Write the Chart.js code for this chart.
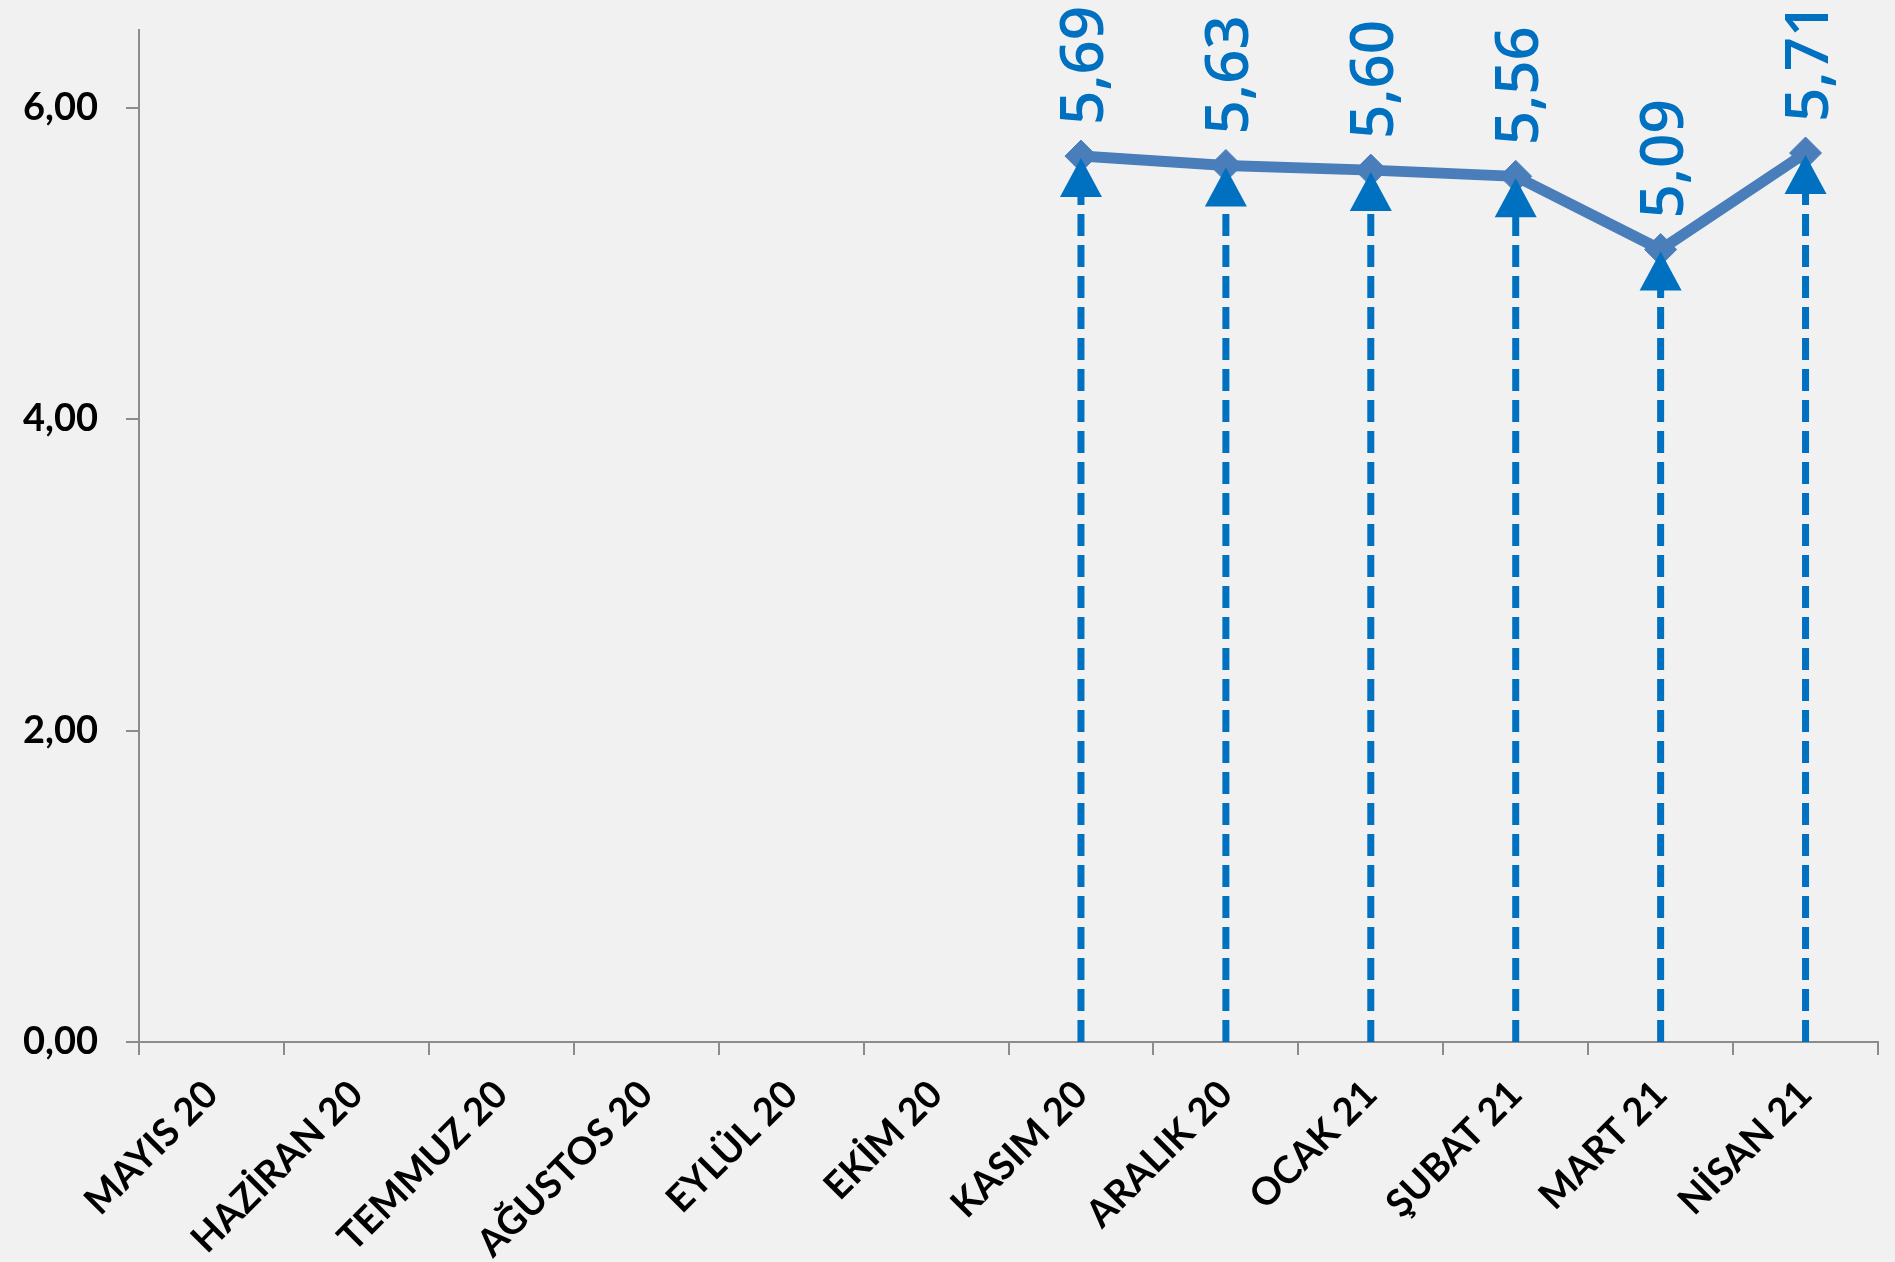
<!DOCTYPE html>
<html>
<head>
<meta charset="utf-8">
<script src="https://cdn.jsdelivr.net/npm/chart.js@4/dist/chart.umd.min.js"></script>
<style>
  html, body { margin: 0; padding: 0; background: #f1f1f1; }
  #wrap { width: 1895px; height: 1262px; position: relative; }
</style>
</head>
<body>
<div id="wrap"><canvas id="c" width="1895" height="1262"></canvas></div>
<script>
const categories = ['MAYIS 20','HAZİRAN 20','TEMMUZ 20','AĞUSTOS 20','EYLÜL 20','EKİM 20','KASIM 20','ARALIK 20','OCAK 21','ŞUBAT 21','MART 21','NİSAN 21'];
const values = [null, null, null, null, null, null, 5.69, 5.63, 5.60, 5.56, 5.09, 5.71];
const yTicks = [0, 2, 4, 6];
const yMin = 0;
const yMax = 6.5;

const fmt = v => v.toFixed(2).replace('.', ',');

const arrowPlugin = {
  id: 'arrows',
  afterDatasetsDraw(chart) {
    const ctx = chart.ctx;
    const meta = chart.getDatasetMeta(0);
    const yScale = chart.scales.y;
    const y0 = yScale.getPixelForValue(0);
    ctx.save();
    meta.data.forEach((pt, i) => {
      const v = values[i];
      if (v === null || v === undefined) return;
      const x = pt.x, y = pt.y;
      const tipY = y + 2;
      const headH = 39, headW = 42;
      ctx.strokeStyle = '#0070C0';
      ctx.lineWidth = 7;
      ctx.lineCap = 'butt';
      ctx.setLineDash([22, 9]);
      ctx.beginPath();
      ctx.moveTo(x, y0);
      ctx.lineTo(x, tipY + headH - 2);
      ctx.stroke();
      ctx.setLineDash([]);
      ctx.fillStyle = '#0070C0';
      ctx.beginPath();
      ctx.moveTo(x, tipY);
      ctx.lineTo(x - headW / 2, tipY + headH);
      ctx.lineTo(x + headW / 2, tipY + headH);
      ctx.closePath();
      ctx.fill();
    });
    meta.data.forEach((pt, i) => {
      const v = values[i];
      if (v === null || v === undefined) return;
      ctx.save();
      ctx.translate(pt.x, pt.y - 31);
      ctx.rotate(-Math.PI / 2);
      ctx.fillStyle = '#0070C0';
      ctx.font = '600 60px "Open Sans"';
      ctx.textAlign = 'left';
      ctx.textBaseline = 'alphabetic';
      ctx.fillText(fmt(v), 0, 22);
      ctx.restore();
    });
    ctx.restore();
  }
};

new Chart(document.getElementById('c'), {
  type: 'line',
  data: {
    labels: categories,
    datasets: [{
      data: values,
      borderColor: '#4A7EBB',
      backgroundColor: '#4A7EBB',
      borderWidth: 11,
      pointStyle: 'rectRot',
      pointRadius: 16,
      pointBorderWidth: 1,
      pointBorderColor: '#4A7EBB',
      pointBackgroundColor: '#4A7EBB',
      spanGaps: false,
      tension: 0
    }]
  },
  options: {
    responsive: false,
    animation: false,
    devicePixelRatio: 1,
    layout: { padding: { left: 0, right: 3, top: 30, bottom: 0 } },
    plugins: { legend: { display: false }, tooltip: { enabled: false } },
    scales: {
      x: {
        offset: true,
        afterFit: (s) => { s.paddingLeft = 0; s.paddingRight = 0; s.height = 220; },
        grid: { display: true, offset: true, drawOnChartArea: false, drawTicks: true, tickLength: 13, color: '#8C8C8C', lineWidth: 2 },
        border: { display: true, color: '#8C8C8C', width: 2 },
        ticks: {
          autoSkip: false, minRotation: 45, maxRotation: 45, padding: 17,
          color: '#000', font: { family: 'Lato', weight: 'bold', size: 38 }
        }
      },
      y: {
        min: yMin, max: yMax,
        afterBuildTicks: (axis) => { axis.ticks = yTicks.map(v => ({ value: v })); },
        afterFit: (s) => { s.paddingTop = 0; s.paddingBottom = 0; s.width = 139; },
        grid: { display: true, drawOnChartArea: false, drawTicks: true, tickLength: 13, color: '#8C8C8C', lineWidth: 2 },
        border: { display: true, color: '#8C8C8C', width: 2 },
        ticks: {
          padding: 28, color: '#000',
          font: { family: 'Lato', weight: 'bold', size: 38 },
          callback: (v) => fmt(v)
        }
      }
    }
  },
  plugins: [arrowPlugin]
});
</script>
</body>
</html>
